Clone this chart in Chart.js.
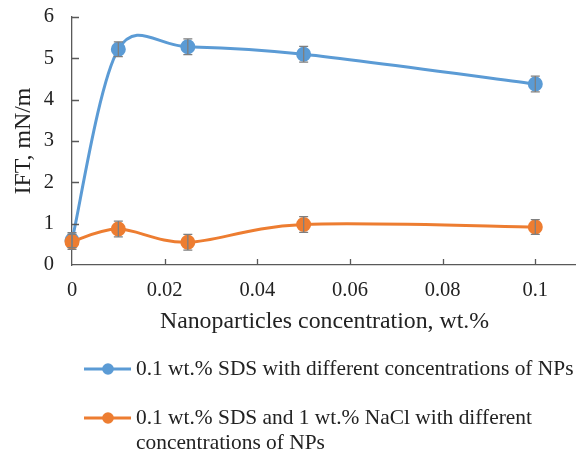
<!DOCTYPE html>
<html>
<head>
<meta charset="utf-8">
<script src="https://cdn.jsdelivr.net/npm/chart.js@4"></script>
<style>
html,body{margin:0;padding:0;background:#fff;overflow:hidden;}
#wrap{width:576px;height:450px;position:relative;overflow:hidden;}
canvas{display:block;}
</style>
</head>
<body>
<div id="wrap"><canvas id="c" width="586" height="450"></canvas></div>
<script>
const concentrations = [0, 0.01, 0.025, 0.05, 0.1];
const sdsValues = [0.6, 5.22, 5.28, 5.1, 4.38];
const sdsErrors = [0.18, 0.18, 0.19, 0.19, 0.19];
const naclValues = [0.56, 0.87, 0.55, 0.98, 0.92];
const naclErrors = [0.18, 0.19, 0.19, 0.19, 0.18];
const xTicks = [0, 0.02, 0.04, 0.06, 0.08, 0.1];
const yTicks = [0, 1, 2, 3, 4, 5, 6];
const seriesLabels = [
  ["0.1 wt.% SDS with different concentrations of NPs"],
  ["0.1 wt.% SDS and 1 wt.% NaCl with different", "concentrations of NPs"]
];
const xTitle = "Nanoparticles concentration, wt.%";
const yTitle = "IFT, mN/m";

const BLUE = "#5B9BD5", ORANGE = "#ED7D31";
const FONT = "'Liberation Serif', 'Times New Roman', serif";

function pts(vals){ return concentrations.map((x,i)=>({x:x,y:vals[i]})); }

// Excel-like smoothing of the line between the data points (control points from pixel positions)
const excelSmooth = {
  id:'excelSmooth',
  beforeDatasetDraw(chart, args){
    const line = args.meta.dataset;
    line.updateControlPoints(chart.chartArea, 'x');
    const p = args.meta.data;
    const n = p.length;
    const dist = (a,b)=>Math.hypot(b.x-a.x, b.y-a.y);
    for(let i=0;i<n-1;i++){
      const p0 = p[i>0?i-1:i], p1 = p[i], p2 = p[i+1], p3 = p[i+2<n?i+2:i+1];
      const d12 = dist(p1,p2), d02 = dist(p0,p2), d13 = dist(p1,p3);
      const f1 = d02>0 ? Math.min(1/6, d12/(2*d02)) : 0;
      const f2 = d13>0 ? Math.min(1/6, d12/(2*d13)) : 0;
      p1.cp2x = p1.x + f1*(p2.x-p0.x); p1.cp2y = p1.y + f1*(p2.y-p0.y);
      p2.cp1x = p2.x - f2*(p3.x-p1.x); p2.cp1y = p2.y - f2*(p3.y-p1.y);
    }
  }
};

const errorBars = {
  id:'errorBars',
  afterDatasetsDraw(chart){
    const ctx = chart.ctx, xs = chart.scales.x, ys = chart.scales.y;
    const errs = [sdsErrors, naclErrors];
    ctx.save();
    ctx.strokeStyle = '#7f7f7f';
    ctx.lineWidth = 1.3;
    chart.data.datasets.forEach((ds,di)=>{
      ds.data.forEach((p,i)=>{
        const e = errs[di][i];
        const px = xs.getPixelForValue(p.x);
        const t = ys.getPixelForValue(p.y+e), b = ys.getPixelForValue(p.y-e);
        ctx.beginPath();
        ctx.moveTo(px,t); ctx.lineTo(px,b);
        ctx.moveTo(px-4.5,t); ctx.lineTo(px+4.5,t);
        ctx.moveTo(px-4.5,b); ctx.lineTo(px+4.5,b);
        ctx.stroke();
      });
    });
    ctx.restore();
  }
};

const innerTicks = {
  id:'innerTicks',
  afterDraw(chart){
    const ctx = chart.ctx, xs = chart.scales.x, ys = chart.scales.y, a = chart.chartArea;
    ctx.save();
    ctx.strokeStyle = '#595959';
    ctx.lineWidth = 1.3;
    ctx.beginPath();
    xTicks.forEach(v=>{ if(v===0) return; const px = Math.round(xs.getPixelForValue(v))+0.5; ctx.moveTo(px,a.bottom); ctx.lineTo(px,a.bottom-6); });
    yTicks.forEach(v=>{ if(v===0) return; const py = Math.round(ys.getPixelForValue(v))+0.5; ctx.moveTo(a.left,py); ctx.lineTo(a.left+7,py); });
    ctx.stroke();
    ctx.restore();
  }
};

const customLegend = {
  id:'customLegend',
  afterDraw(chart){
    const ctx = chart.ctx;
    const colors = [BLUE, ORANGE];
    const rows = [369, 418];
    ctx.save();
    ctx.font = "21.4px " + FONT;
    ctx.textBaseline = 'middle';
    rows.forEach((y,i)=>{
      ctx.strokeStyle = colors[i];
      ctx.lineWidth = 3;
      ctx.beginPath(); ctx.moveTo(84,y); ctx.lineTo(131,y); ctx.stroke();
      ctx.fillStyle = colors[i];
      ctx.beginPath(); ctx.arc(108,y,5.8,0,Math.PI*2); ctx.fill();
      ctx.fillStyle = '#222';
      seriesLabels[i].forEach((line,j)=>{ ctx.fillText(line, 136, y + j*25); });
    });
    ctx.restore();
  }
};

new Chart(document.getElementById('c'), {
  type:'line',
  data:{
    datasets:[
      {label:seriesLabels[0].join(' '), data:pts(sdsValues), borderColor:BLUE, backgroundColor:BLUE,
       pointBackgroundColor:BLUE, pointBorderColor:BLUE, pointRadius:6, borderWidth:3, tension:0.3, clip:false, order:2},
      {label:seriesLabels[1].join(' '), data:pts(naclValues), borderColor:ORANGE, backgroundColor:ORANGE,
       pointBackgroundColor:ORANGE, pointBorderColor:ORANGE, pointRadius:6, borderWidth:3, tension:0.3, clip:false, order:1}
    ]
  },
  options:{
    responsive:false,
    animation:false,
    events:[],
    layout:{padding:{left:0,right:0,top:17,bottom:114}},
    plugins:{legend:{display:false}, tooltip:{enabled:false}},
    scales:{
      x:{
        type:'linear', min:0, max:0.109,
        afterBuildTicks(s){ s.ticks = xTicks.map(v=>({value:v})); },
        afterFit(s){ s.height = 71; s.paddingLeft = 0; s.paddingRight = 0; },
        grid:{display:true, drawOnChartArea:false, drawTicks:false},
        border:{display:true, color:'#595959', width:1.3},
        ticks:{padding:13.5, color:'#222', font:{family:FONT, size:20.5},
          callback:(v)=>String(Math.round(v*100)/100), maxRotation:0, autoSkip:false},
        title:{display:true, text:xTitle, color:'#222', font:{family:FONT, size:23.8}, padding:{top:0,bottom:0}}
      },
      y:{
        type:'linear', min:0, max:6,
        afterBuildTicks(s){ s.ticks = yTicks.map(v=>({value:v})); },
        afterFit(s){ s.width = 72; s.paddingTop = 0; s.paddingBottom = 0; },
        grid:{display:true, drawOnChartArea:false, drawTicks:false},
        border:{display:true, color:'#595959', width:1.3},
        ticks:{padding:18, color:'#222', font:{family:FONT, size:20.5}},
        title:{display:true, text:yTitle, color:'#222', font:{family:FONT, size:23.8}, padding:{top:9,bottom:0}}
      }
    }
  },
  plugins:[excelSmooth, errorBars, innerTicks, customLegend]
});
</script>
</body>
</html>
